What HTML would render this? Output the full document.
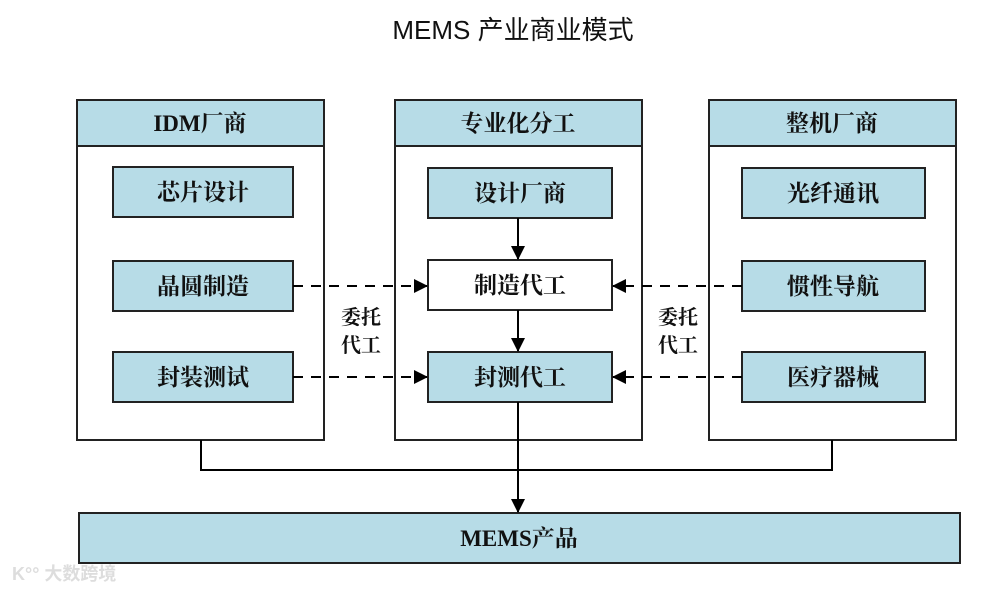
<!DOCTYPE html>
<html><head><meta charset="utf-8"><style>
body{margin:0;background:#fff;width:986px;height:590px;overflow:hidden}
text{font-family:"Liberation Serif","Noto Serif CJK SC",serif;font-weight:bold;fill:#111}
</style></head><body>
<svg width="986" height="590" viewBox="0 0 986 590" xmlns="http://www.w3.org/2000/svg">
<defs><marker id="a" markerWidth="14" markerHeight="14" refX="13" refY="7" orient="auto" markerUnits="userSpaceOnUse"><path d="M0,0 L14,7 L0,14 z" fill="#000"/></marker></defs>
<text x="513" y="39" text-anchor="middle" style="font-family:'Liberation Sans','Noto Sans CJK SC',sans-serif;font-weight:normal;font-size:26px">MEMS 产业商业模式</text>
<g stroke="#222" stroke-width="2">
<rect x="77" y="100" width="247" height="340" fill="#fff"/><rect x="77" y="100" width="247" height="46" fill="#b7dce7"/>
<rect x="395" y="100" width="247" height="340" fill="#fff"/><rect x="395" y="100" width="247" height="46" fill="#b7dce7"/>
<rect x="709" y="100" width="247" height="340" fill="#fff"/><rect x="709" y="100" width="247" height="46" fill="#b7dce7"/>
<rect x="113" y="167" width="180" height="50" fill="#b7dce7"/>
<rect x="113" y="261" width="180" height="50" fill="#b7dce7"/>
<rect x="113" y="352" width="180" height="50" fill="#b7dce7"/>
<rect x="428" y="168" width="184" height="50" fill="#b7dce7"/>
<rect x="428" y="260" width="184" height="50" fill="#fff"/>
<rect x="428" y="352" width="184" height="50" fill="#b7dce7"/>
<rect x="742" y="168" width="183" height="50" fill="#b7dce7"/>
<rect x="742" y="261" width="183" height="50" fill="#b7dce7"/>
<rect x="742" y="352" width="183" height="50" fill="#b7dce7"/>
<rect x="79" y="513" width="881" height="50" fill="#b7dce7"/>
</g>
<g stroke="#000" stroke-width="2" fill="none">
<line x1="518" y1="218" x2="518" y2="259" marker-end="url(#a)"/>
<line x1="518" y1="310" x2="518" y2="351" marker-end="url(#a)"/>
<line x1="518" y1="402" x2="518" y2="512" marker-end="url(#a)"/>
<polyline points="201,440 201,470 832,470 832,440"/>
<g stroke-dasharray="10,8">
<line x1="293" y1="286" x2="427" y2="286" marker-end="url(#a)"/>
<line x1="293" y1="377" x2="427" y2="377" marker-end="url(#a)"/>
<line x1="742" y1="286" x2="613" y2="286" marker-end="url(#a)"/>
<line x1="742" y1="377" x2="613" y2="377" marker-end="url(#a)"/>
</g></g>
<g font-size="23" text-anchor="middle">
<text x="200" y="131">IDM厂商</text><text x="518" y="131">专业化分工</text><text x="832" y="131">整机厂商</text>
<text x="203" y="200">芯片设计</text><text x="203" y="294">晶圆制造</text><text x="203" y="385">封装测试</text>
<text x="520" y="201">设计厂商</text><text x="520" y="293">制造代工</text><text x="520" y="385">封测代工</text>
<text x="833" y="201">光纤通讯</text><text x="833" y="294">惯性导航</text><text x="833" y="385">医疗器械</text>
<text x="519" y="546">MEMS产品</text>
</g>
<g font-size="20" text-anchor="middle">
<text x="361" y="324">委托</text><text x="361" y="352">代工</text>
<text x="678" y="324">委托</text><text x="678" y="352">代工</text>
</g>
<text x="12" y="580" style="font-family:'Liberation Sans','Noto Sans CJK SC',sans-serif;font-size:18px;fill:#ddd">K°° 大数跨境</text>
</svg>
</body></html>
